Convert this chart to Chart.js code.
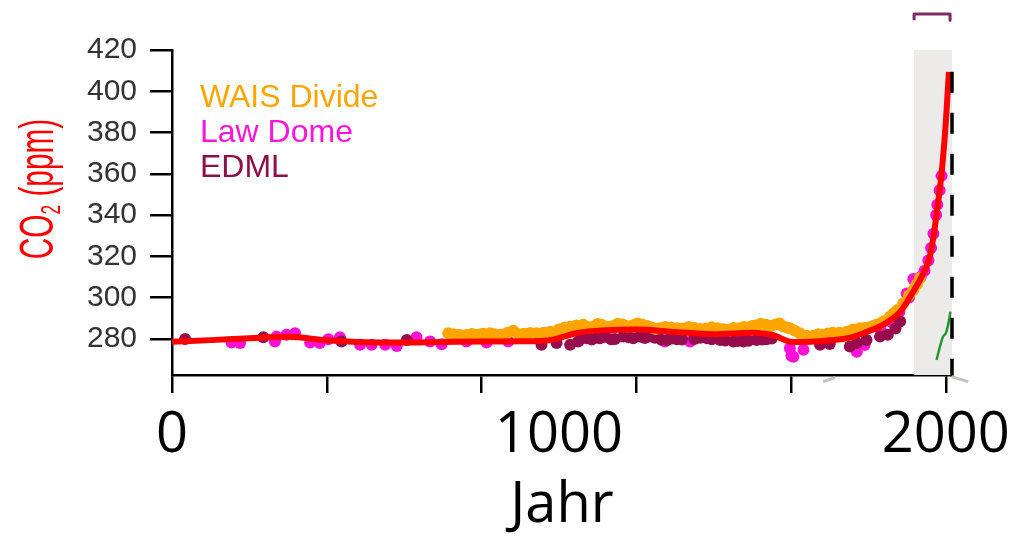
<!DOCTYPE html>
<html>
<head>
<meta charset="utf-8">
<script src="https://cdn.jsdelivr.net/npm/chart.js@4.4.1/dist/chart.umd.min.js"></script>
<style>
  html, body { margin: 0; background: #fff; }
</style>
</head>
<body>
<canvas id="co2" width="1025" height="540"></canvas>
<script>
// axis ticks
const xTickYears = [0, 400, 800, 1200, 1600, 2000];
const xLabelYears = [0, 1000, 2000];
const yTicks = [280, 300, 320, 340, 360, 380, 400, 420];

// smoothed CO2 curve
const splineYears = [0, 100, 200, 300, 400, 500, 600, 700, 800, 900, 980, 1050, 1120, 1200, 1300, 1400, 1500, 1550, 1605, 1650, 1700, 1750, 1790, 1830, 1860, 1882, 1900, 1916, 1933, 1950, 1960, 1970, 1980, 1990, 2000, 2008];
const splineCo2 = [278.6, 279.4, 280.3, 281, 279.3, 278.4, 278.3, 278.5, 278.7, 278.8, 279.5, 283, 284.2, 284.5, 283.3, 282.3, 283, 282, 278.5, 278.6, 279.3, 280.5, 283, 286, 289.5, 293, 298, 303, 308.5, 315, 321, 332, 346, 362, 385, 409.4];

// WAIS Divide ice core
const waisYears = [714, 727, 740, 750, 761, 775, 787, 797, 805, 822, 835, 850, 866, 882, 895, 910, 926, 942, 960, 977, 990,
  1000, 1015, 1029, 1045, 1063, 1075, 1090, 1100, 1110, 1125, 1140, 1152, 1165, 1178, 1190, 1203, 1215, 1228, 1240, 1250,
  1260, 1275, 1290, 1305, 1320, 1335, 1350, 1365, 1380, 1395, 1410, 1425, 1440, 1452, 1465, 1478, 1490, 1500, 1510, 1522,
  1535, 1548, 1560, 1570, 1580, 1590, 1597, 1610, 1623, 1640, 1657, 1670, 1680, 1695, 1708, 1725, 1744, 1760, 1778, 1790,
  1800, 1812, 1821, 1832, 1840, 1856, 1866, 1875, 1890, 1905, 1916, 1925, 1933];
const waisCo2 = [282.7, 282.2, 282, 281.6, 281.9, 282.4, 281.9, 282.3, 282.5, 282.7, 282.2, 282, 282.8, 284, 282.4, 282.5, 282.9, 282.7, 283, 283.5, 283.2,
  284.5, 285.5, 285.9, 286.5, 286.8, 285.8, 286, 287.2, 286.8, 285.8, 286.3, 287.3, 287, 286, 286.5, 287.5, 287, 286.2, 285.5, 284.8,
  285.2, 285.8, 285.5, 285.2, 285, 285.8, 285.3, 284.8, 285, 285.6, 285.2, 284.7, 284.5, 285.3, 285, 285.8, 285.5, 286.2, 286.5, 287.3,
  286.8, 286.2, 287, 287.5, 286, 285.5, 285.2, 284, 282.7, 281.5, 281.5, 282.3, 282, 282.6, 283, 283, 283.5, 284.5, 285.2, 285.3,
  285.5, 286.3, 286.8, 287.6, 288.5, 290.8, 292.5, 294, 297.3, 301, 303.7, 306.5, 309.4];

// Law Dome ice core
const lawYears = [154, 176, 266, 270, 296, 318, 357, 382, 404, 434, 486, 516, 551, 581, 632, 667, 697, 761, 813, 869, 1274, 1339,
  1597, 1601, 1606, 1632, 1770, 1790, 1830, 1860, 1880, 1899, 1905, 1916, 1925, 1935, 1945, 1955, 1962, 1968, 1975, 1978, 1984, 1989];
const lawCo2 = [278.2, 278, 278.7, 281.1, 282, 282.7, 278.2, 278, 279.8, 280.8, 277.1, 277.1, 277.1, 276.6, 280.8, 278.7, 277.4, 278.7, 278.2, 278.7, 278.7, 278.7,
  275.5, 271.8, 271.4, 274.7, 273.8, 277, 285, 288, 293, 302, 300, 309, 308, 310, 313, 318, 324, 331, 340, 345, 352, 359];

// EDML ice core
const edmlYears = [34, 236, 438, 607, 955, 994, 1029, 1050, 1060, 1072, 1085, 1095, 1106, 1120, 1135, 1145, 1166, 1180, 1192, 1210,
  1222, 1235, 1248, 1265, 1279, 1292, 1305, 1318, 1350, 1365, 1383, 1395, 1417, 1430, 1451, 1462, 1477, 1490, 1511, 1525,
  1537, 1550, 1675, 1700, 1752, 1770, 1795, 1830, 1850, 1870, 1882];
const edmlCo2 = [280, 280.8, 278.7, 279.5, 277.1, 278, 277.1, 278.7, 280.3, 280.3, 279.7, 280.6, 280.3, 281, 279.8, 280, 281.1, 280.8, 280.3, 281.2,
  280.4, 281.1, 280.6, 279.6, 279.5, 280.2, 279.8, 279.7, 279.9, 280.5, 280.3, 279.8, 279.5, 279.2, 278.7, 279, 278.7, 279.1, 279.5, 279.7,
  279.8, 280.2, 277.1, 277.5, 276.3, 278, 279.5, 281.1, 282, 285, 288.4];

// instrumental record (green) and marker lines
const greenYears = [1976, 1985, 1993, 2000, 2006, 2012];
const greenCo2 = [269.8, 276.3, 281.1, 282.7, 286.8, 293.2];
const shadeYears = [1918, 2016];
const dashYears = [2016, 2016];
const dashCo2 = [409.4, 262.5];
const bracketYears = [1918, 1918, 2011, 2011];
const bracketCo2 = [434.4, 437.4, 437.4, 434.4];
const strokeAYears = [1683, 1714];
const strokeACo2 = [259.3, 261.2];
const strokeBYears = [2015, 2058];
const strokeBCo2 = [261.7, 259.3];

const pts = (xs, ys) => xs.map((x, i) => ({ x: x, y: ys[i] }));

const FONT = '"Liberation Sans", Arial, sans-serif';
const BIG = '"Open Sans", sans-serif';

// y title, drawn narrow and tall, with a real subscript
const yTitle = {
  id: 'yTitle',
  afterDraw(chart) {
    const ctx = chart.ctx;
    ctx.save();
    ctx.translate(53, 189);
    ctx.rotate(-Math.PI / 2);
    ctx.scale(0.62, 1);
    ctx.fillStyle = '#ff0000';
    ctx.textBaseline = 'alphabetic';
    ctx.font = '48px ' + FONT;
    const w1 = ctx.measureText('CO').width;
    const w3 = ctx.measureText(' (ppm)').width;
    ctx.font = '28px ' + FONT;
    const w2 = ctx.measureText('2').width;
    let x = -(w1 + w2 + w3) / 2;
    ctx.font = '48px ' + FONT;
    ctx.fillText('CO', x, 0);
    x += w1;
    ctx.font = '28px ' + FONT;
    ctx.fillText('2', x, 7);
    x += w2;
    ctx.font = '48px ' + FONT;
    ctx.fillText(' (ppm)', x, 0);
    ctx.restore();
  }
};

// series names written inside the plot
const seriesNames = {
  id: 'seriesNames',
  afterDatasetsDraw(chart) {
    const ctx = chart.ctx;
    ctx.save();
    ctx.font = '32px ' + FONT;
    ctx.textBaseline = 'alphabetic';
    let y = 107;
    chart.data.datasets.filter(d => d.named).forEach(d => {
      ctx.fillStyle = d.textColor;
      ctx.fillText(d.label, 200, y);
      y += 35;
    });
    ctx.restore();
  }
};

const plainLine = (label, xs, ys, color, width, order) => ({
  label: label, data: pts(xs, ys), showLine: true, borderColor: color,
  borderWidth: width, pointRadius: 0, clip: false, order: order
});

new Chart(document.getElementById('co2'), {
  type: 'scatter',
  data: {
    datasets: [
      {
        label: 'WAIS Divide', named: true, textColor: '#ffa500',
        data: pts(waisYears, waisCo2),
        backgroundColor: '#ffa500', borderWidth: 0, pointRadius: 6, order: 4
      },
      {
        label: 'Law Dome', named: true, textColor: '#ff14d8',
        data: pts(lawYears, lawCo2),
        backgroundColor: '#ff10d4', borderWidth: 0, pointRadius: 6, order: 6
      },
      {
        label: 'EDML', named: true, textColor: '#8f1048',
        data: pts(edmlYears, edmlCo2),
        backgroundColor: '#960c4c', borderWidth: 0, pointRadius: 6, order: 5
      },
      {
        label: 'spline',
        data: pts(splineYears, splineCo2),
        showLine: true, borderColor: '#ff0000', borderWidth: 6,
        pointRadius: 0, cubicInterpolationMode: 'monotone', order: 2
      },
      {
        label: 'shade',
        data: pts(shadeYears, [420, 420]),
        showLine: true, fill: 'start', backgroundColor: '#ecebea',
        borderWidth: 0, pointRadius: 0, order: 10
      },
      {
        label: 'dash',
        data: pts(dashYears, dashCo2),
        showLine: true, borderColor: '#000', borderWidth: 3.5,
        borderDash: [21, 20], pointRadius: 0, clip: false, order: 1
      },
      {
        label: 'green',
        data: pts(greenYears, greenCo2),
        showLine: true, borderColor: '#1f9a2a', borderWidth: 2.5,
        pointRadius: 0, tension: 0.3, order: 3
      },
      Object.assign(plainLine('bracket', bracketYears, bracketCo2, '#7d2a64', 3, 1), { borderJoinStyle: 'round' }),
      plainLine('strokeA', strokeAYears, strokeACo2, '#c4c1bc', 3, 1),
      plainLine('strokeB', strokeBYears, strokeBCo2, '#c4c1bc', 3, 1)
    ]
  },
  options: {
    responsive: false,
    animation: false,
    layout: { padding: { top: 50, right: 73, left: 0, bottom: 0 } },
    plugins: {
      legend: { display: false },
      tooltip: { enabled: false }
    },
    scales: {
      x: {
        type: 'linear', position: 'bottom', weight: 0,
        min: 0, max: 2016,
        afterBuildTicks: s => { s.ticks = xTickYears.map(v => ({ value: v })); },
        afterFit: s => { s.height = 19; },
        ticks: { display: false },
        grid: { drawOnChartArea: false, tickLength: 18, color: '#000', lineWidth: 2.5 },
        border: { color: '#000', width: 2.5 }
      },
      x2: {
        type: 'linear', position: 'bottom', weight: 1,
        min: 0, max: 2016,
        afterBuildTicks: s => { s.ticks = xLabelYears.map(v => ({ value: v })); },
        afterFit: s => { s.height = 146; },
        ticks: {
          color: '#000', font: { family: BIG, size: 56 }, padding: 0, maxRotation: 0,
          callback: v => String(v)
        },
        grid: { display: false },
        border: { display: false },
        title: { display: true, text: 'Jahr', color: '#000', font: { family: BIG, size: 56 }, padding: 0 }
      },
      y: {
        min: 262.5, max: 420,
        afterBuildTicks: s => { s.ticks = yTicks.map(v => ({ value: v })); },
        afterFit: s => { s.width = 172; },
        ticks: { color: '#333', font: { family: FONT, size: 30 }, padding: 13 },
        grid: { drawOnChartArea: false, tickLength: 22, color: '#000', lineWidth: 2.5 },
        border: { color: '#000', width: 2.5 }
      }
    }
  },
  plugins: [yTitle, seriesNames]
});
</script>
</body>
</html>
